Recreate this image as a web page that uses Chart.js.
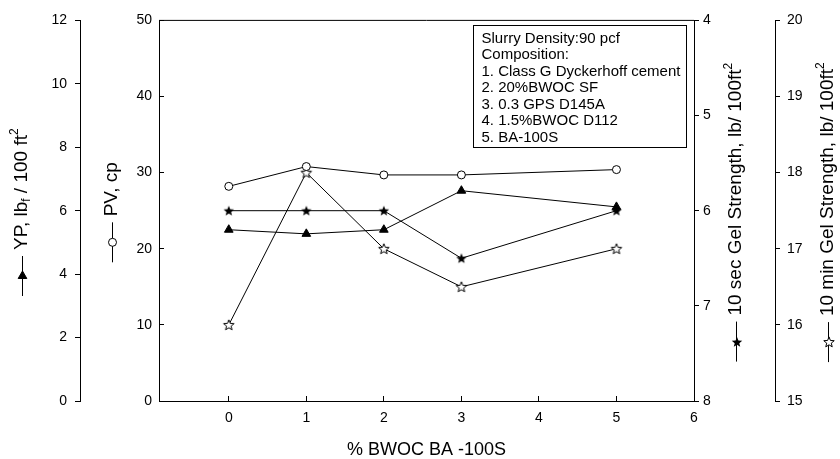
<!DOCTYPE html>
<html><head><meta charset="utf-8">
<script src="https://cdn.jsdelivr.net/npm/chart.js@4"></script>
<style>html,body{margin:0;padding:0;background:#fff}canvas{display:block}</style>
</head><body>
<canvas id="c" width="840" height="459"></canvas>
<script>
// ---- data ----
const bwoc = [0, 1, 2, 3, 5];
const yp = [5.4, 5.27, 5.4, 6.63, 6.12];
const pv = [28.2, 30.8, 29.7, 29.7, 30.4];
const gel10s = [6, 6, 6, 6.5, 6];
const gel10m = [16, 18, 17, 16.5, 17];
const xTicks = [0, 1, 2, 3, 4, 5, 6];
const ypTicks = [0, 2, 4, 6, 8, 10, 12];
const pvTicks = [0, 10, 20, 30, 40, 50];
const gel10sTicks = [4, 5, 6, 7, 8];
const gel10mTicks = [15, 16, 17, 18, 19, 20];
const noteLines = ['Slurry Density:90 pcf', 'Composition:', '1. Class G Dyckerhoff cement',
  '2. 20%BWOC SF', '3. 0.3 GPS D145A', '4. 1.5%BWOC D112', '5. BA-100S'];
const xTitle = '% BWOC BA -100S';
const ypTitle = [{t: 'YP, lb'}, {t: 'f', sub: true}, {t: ' / 100 ft'}, {t: '2', sup: true}];
const pvTitle = [{t: 'PV, cp'}];
const g10sTitle = [{t: '10 sec Gel Strength, lb/ 100ft'}, {t: '2', sup: true}];
const g10mTitle = [{t: '10 min Gel Strength, lb/ 100ft'}, {t: '2', sup: true}];

const FONT = '"Liberation Sans", Arial, sans-serif';

function starCanvas(filled) {
  const c = document.createElement('canvas');
  c.width = 14; c.height = 14;
  const g = c.getContext('2d');
  const R = 5.5, r = 2.4;
  g.beginPath();
  for (let i = 0; i < 10; i++) {
    const a = -Math.PI / 2 + i * Math.PI / 5;
    const rr = i % 2 ? r : R;
    g.lineTo(7 + rr * Math.cos(a), 7.4 + rr * Math.sin(a));
  }
  g.closePath();
  if (filled) { g.fillStyle = '#000'; g.fill(); }
  else { g.fillStyle = '#fff'; g.fill(); g.lineWidth = 1; g.strokeStyle = '#000'; g.stroke(); }
  return c;
}
const starFilled = starCanvas(true);
const starOpen = starCanvas(false);

function pts(ys) { return bwoc.map((x, i) => ({x: x, y: ys[i]})); }
function tickSetter(arr) { return s => { s.ticks = arr.map(v => ({value: v})); }; }

const tickFont = {family: FONT, size: 14};

function drawMarker(ctx, kind, x, y) {
  ctx.save();
  ctx.lineWidth = 1; ctx.strokeStyle = '#000';
  if (kind === 'triangle') {
    const r = 5;
    ctx.beginPath();
    for (let k = 0; k < 3; k++) {
      const a = k * 2 * Math.PI / 3;
      ctx.lineTo(x + Math.sin(a) * r, y - Math.cos(a) * r);
    }
    ctx.closePath(); ctx.fillStyle = '#000'; ctx.fill(); ctx.stroke();
  } else if (kind === 'circle') {
    ctx.beginPath(); ctx.arc(x, y, 4, 0, Math.PI * 2);
    ctx.fillStyle = '#fff'; ctx.fill(); ctx.stroke();
  } else {
    const img = kind === 'starFilled' ? starFilled : starOpen;
    ctx.drawImage(img, Math.round(x) - 7, Math.round(y) - 7);
  }
  ctx.restore();
}

function drawRotTitle(ctx, x, cy, parts, marker) {
  const size = 19, small = 12;
  ctx.save();
  let w = 0;
  parts.forEach(p => {
    ctx.font = (p.sub || p.sup ? small : size) + 'px ' + FONT;
    p.w = ctx.measureText(p.t).width; w += p.w;
  });
  const gap = 6, lineLen = 40;
  const total = w + gap + lineLen;
  const yBottom = cy + total / 2;
  const textStart = yBottom - lineLen - gap;
  const lx = Math.round(x) + 0.5;
  ctx.strokeStyle = '#000'; ctx.lineWidth = 1;
  ctx.beginPath(); ctx.moveTo(lx, yBottom - lineLen); ctx.lineTo(lx, yBottom); ctx.stroke();
  drawMarker(ctx, marker, lx, yBottom - lineLen / 2);
  ctx.translate(x, textStart);
  ctx.rotate(-Math.PI / 2);
  ctx.fillStyle = '#000';
  ctx.textBaseline = 'middle';
  ctx.textAlign = 'left';
  let px = 0;
  parts.forEach(p => {
    ctx.font = (p.sub || p.sup ? small : size) + 'px ' + FONT;
    const dy = p.sub ? 5 : (p.sup ? -7 : 0);
    ctx.fillText(p.t, px, dy);
    px += p.w;
  });
  ctx.restore();
}

const decor = {
  id: 'decor',
  afterDraw(chart) {
    const ctx = chart.ctx;
    const a = chart.chartArea;
    const s = chart.scales;
    ctx.save();
    // top frame line
    ctx.strokeStyle = '#000'; ctx.lineWidth = 1;
    ctx.beginPath(); ctx.moveTo(a.left, a.top); ctx.lineTo(a.right, a.top); ctx.stroke();
    // note box
    ctx.strokeRect(473.5, 25.5, 213, 122);
    ctx.fillStyle = '#000';
    ctx.font = '15px ' + FONT;
    ctx.textBaseline = 'middle'; ctx.textAlign = 'left';
    noteLines.forEach((t, i) => ctx.fillText(t, 481.5, 38.5 + i * 16.5));
    ctx.restore();
    const cy = (a.top + a.bottom) / 2 + 1.5;
    drawRotTitle(ctx, s.yYP.left + 22, cy, ypTitle, 'triangle');
    drawRotTitle(ctx, s.yPV.left + 32, cy, pvTitle, 'circle');
    drawRotTitle(ctx, s.yG10s.left + 42, cy, g10sTitle, 'starFilled');
    drawRotTitle(ctx, s.yG10m.left + 53, cy, g10mTitle, 'starOpen');
  }
};

const lineBase = {borderColor: '#000', borderWidth: 1, tension: 0, fill: false,
  pointBorderColor: '#000', pointBorderWidth: 1};

new Chart(document.getElementById('c'), {
  type: 'line',
  data: {
    datasets: [
      Object.assign({label: 'YP', data: pts(yp), yAxisID: 'yYP', pointStyle: 'triangle',
        pointRadius: 5, pointBackgroundColor: '#000'}, lineBase),
      Object.assign({label: 'PV', data: pts(pv), yAxisID: 'yPV', pointStyle: 'circle',
        pointRadius: 4, pointBackgroundColor: '#fff'}, lineBase),
      Object.assign({label: '10 sec Gel', data: pts(gel10s), yAxisID: 'yG10s', pointStyle: starFilled,
        pointRadius: 6}, lineBase),
      Object.assign({label: '10 min Gel', data: pts(gel10m), yAxisID: 'yG10m', pointStyle: starOpen,
        pointRadius: 6}, lineBase)
    ]
  },
  options: {
    responsive: false,
    animation: false,
    devicePixelRatio: 1,
    layout: {padding: {top: 18, left: 0, right: 0, bottom: 0}},
    plugins: {legend: {display: false}, tooltip: {enabled: false}},
    scales: {
      x: {
        type: 'linear', position: 'bottom', min: -0.9, max: 6,
        afterBuildTicks: tickSetter(xTicks),
        afterFit: s => { s.height = 58; },
        grid: {drawOnChartArea: false, drawTicks: true, tickLength: -5, color: '#000', lineWidth: 1},
        border: {display: true, color: '#000', width: 1},
        ticks: {font: tickFont, color: '#000', padding: 14, maxRotation: 0, autoSkip: false},
        title: {display: true, text: xTitle, color: '#000', font: {family: FONT, size: 18, lineHeight: 1},
          padding: {top: 0, bottom: 0}}
      },
      yYP: {
        type: 'linear', position: 'left', weight: 2, min: 0, max: 12,
        afterBuildTicks: tickSetter(ypTicks),
        afterFit: s => { s.width = 80; },
        grid: {drawOnChartArea: false, drawTicks: true, tickLength: 5, color: '#000'},
        border: {display: true, color: '#000', width: 1},
        ticks: {font: tickFont, color: '#000', padding: 8}
      },
      yPV: {
        type: 'linear', position: 'left', weight: 1, min: 0, max: 50,
        afterBuildTicks: tickSetter(pvTicks),
        afterFit: s => { s.width = 79; },
        grid: {drawOnChartArea: false, drawTicks: true, tickLength: -5, color: '#000'},
        border: {display: true, color: '#000', width: 1},
        ticks: {font: tickFont, color: '#000', padding: 12}
      },
      yG10s: {
        type: 'linear', position: 'right', weight: 1, min: 4, max: 8, reverse: true,
        afterBuildTicks: tickSetter(gel10sTicks),
        afterFit: s => { s.width = 81; },
        grid: {drawOnChartArea: false, drawTicks: true, tickLength: 5, color: '#000'},
        border: {display: true, color: '#000', width: 1},
        ticks: {font: tickFont, color: '#000', padding: 4}
      },
      yG10m: {
        type: 'linear', position: 'right', weight: 2, min: 15, max: 20,
        afterBuildTicks: tickSetter(gel10mTicks),
        afterFit: s => { s.width = 65; },
        grid: {drawOnChartArea: false, drawTicks: true, tickLength: 5, color: '#000'},
        border: {display: true, color: '#000', width: 1},
        ticks: {font: tickFont, color: '#000', padding: 7}
      }
    }
  },
  plugins: [decor]
});
</script>
</body></html>
